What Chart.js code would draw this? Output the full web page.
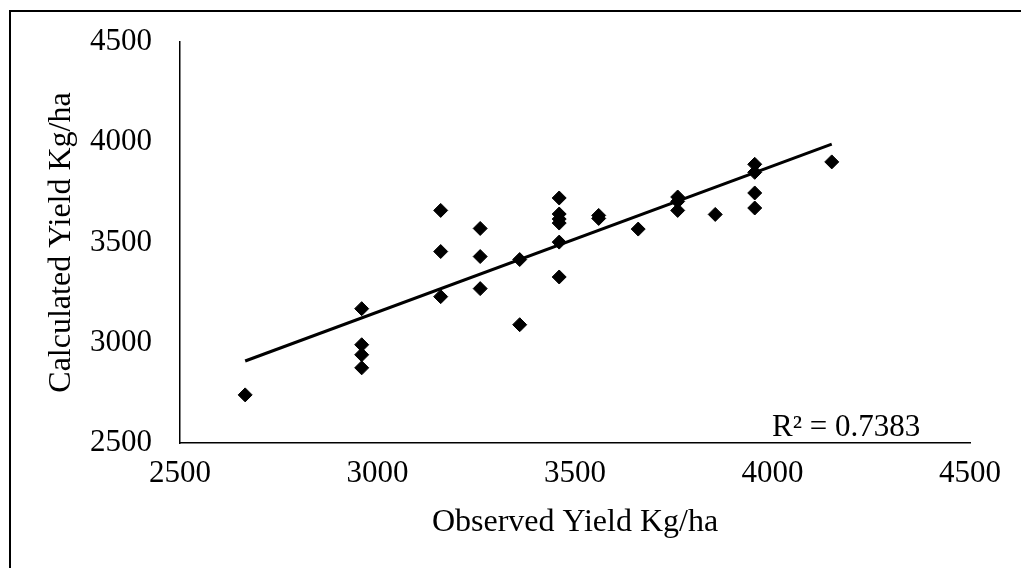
<!DOCTYPE html>
<html>
<head>
<meta charset="utf-8">
<script src="https://cdn.jsdelivr.net/npm/chart.js@4/dist/chart.umd.min.js"></script>
<style>
    html, body { margin: 0; padding: 0; background: #fff; overflow: hidden; }
    #frame {
        position: absolute; left: 9px; top: 10px; width: 1100px; height: 700px;
        border-left: 2px solid #000; border-top: 2px solid #000;
    }
    #wrap { position: absolute; left: 0; top: 0; width: 1021px; height: 568px; }
</style>
</head>
<body>
<div id="frame"></div>
<div id="wrap"><canvas id="yieldChart" width="1021" height="568"></canvas></div>
<script>
// Observed vs calculated yield (Kg/ha)
const observed = [2665,
    2960, 2960, 2960, 2960,
    3160, 3160, 3160,
    3260, 3260, 3260,
    3360, 3360,
    3460, 3460, 3460, 3460, 3460, 3460,
    3560, 3560,
    3660,
    3760, 3760, 3760,
    3855,
    3955, 3955, 3955, 3955,
    4150];
const calculated = [2740,
    3170, 2990, 2940, 2875,
    3660, 3455, 3230,
    3570, 3430, 3270,
    3415, 3090,
    3722, 3642, 3617, 3597, 3502, 3328,
    3635, 3620,
    3567,
    3727, 3705, 3660,
    3640,
    3890, 3850, 3747, 3672,
    3902];

// linear trendline end points as drawn
const trendX = [2665, 4150];
const trendY = [2909, 3991];
const rSquared = 'R\u00B2 = 0.7383';

const axisTicks = [2500, 3000, 3500, 4000, 4500];

const FONT = { family: '"Liberation Serif", "Times New Roman", serif', size: 31 };
const TITLE_FONT = { family: FONT.family, size: 32 };

const r2Label = {
    id: 'r2Label',
    afterDatasetsDraw(chart) {
        const { ctx, chartArea } = chart;
        ctx.save();
        ctx.font = FONT.size + 'px ' + FONT.family;
        ctx.fillStyle = '#000';
        ctx.textAlign = 'left';
        ctx.textBaseline = 'alphabetic';
        ctx.fillText(rSquared, chartArea.right - 198, chartArea.bottom - 7);
        ctx.restore();
    }
};

document.addEventListener('DOMContentLoaded', function () {
    const ctx = document.getElementById('yieldChart').getContext('2d');

    new Chart(ctx, {
        type: 'scatter',
        data: {
            datasets: [
                {
                    label: 'Calculated',
                    data: observed.map((x, i) => ({ x: x, y: calculated[i] })),
                    pointStyle: 'rectRot',
                    pointRadius: 7,
                    pointBorderWidth: 1,
                    backgroundColor: '#000',
                    borderColor: '#000'
                },
                {
                    label: 'Linear',
                    data: trendX.map((x, i) => ({ x: x, y: trendY[i] })),
                    showLine: true,
                    pointRadius: 0,
                    borderColor: '#000',
                    borderWidth: 3
                }
            ]
        },
        options: {
            responsive: false,
            animation: false,
            layout: { padding: { left: 0, top: 42, right: 51, bottom: 0 } },
            plugins: {
                legend: { display: false },
                tooltip: { enabled: false }
            },
            scales: {
                x: {
                    min: 2500, max: 4500,
                    afterBuildTicks: (s) => { s.ticks = axisTicks.map(v => ({ value: v })); },
                    afterFit: (s) => { s.height = 125; },
                    grid: { display: false },
                    border: { display: true, color: '#000', width: 1.5 },
                    ticks: { color: '#000', font: FONT, padding: 4, maxRotation: 0, callback: (v) => String(v) },
                    title: {
                        display: true, text: 'Observed Yield Kg/ha', color: '#000', font: TITLE_FONT,
                        padding: { top: 0, bottom: 26 }
                    }
                },
                y: {
                    min: 2500, max: 4500,
                    afterBuildTicks: (s) => { s.ticks = axisTicks.map(v => ({ value: v })); },
                    afterFit: (s) => { s.width = 180; },
                    grid: { display: false },
                    border: { display: true, color: '#000', width: 1.5 },
                    ticks: { color: '#000', font: FONT, padding: 20, callback: (v) => String(v) },
                    title: {
                        display: true, text: 'Calculated Yield Kg/ha', color: '#000', font: TITLE_FONT,
                        padding: { top: 42, bottom: 0 }
                    }
                }
            }
        },
        plugins: [r2Label]
    });
});
</script>
</body>
</html>
